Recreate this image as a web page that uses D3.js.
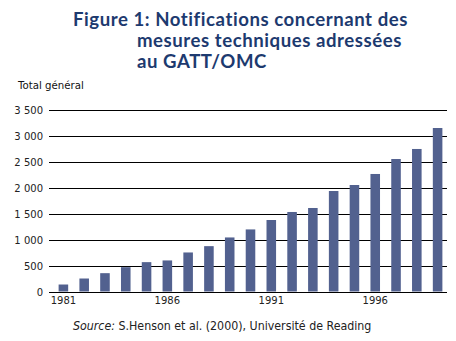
<!DOCTYPE html>
<html>
<head>
<meta charset="utf-8">
<script src="https://cdn.jsdelivr.net/npm/d3@7"></script>
<style>
  html, body { margin: 0; padding: 0; background: #fff; }
  svg { display: block; }
</style>
</head>
<body>
<svg id="chart" width="456" height="341"></svg>
<script>
// Notifications per year, 1981–1999
const years = [1981, 1982, 1983, 1984, 1985, 1986, 1987, 1988, 1989, 1990,
               1991, 1992, 1993, 1994, 1995, 1996, 1997, 1998, 1999];
const notifications = [135, 251, 354, 470, 567, 600, 754, 876, 1044, 1199,
                       1381, 1536, 1613, 1941, 2057, 2270, 2559, 2753, 3158];
const yTicks = [0, 500, 1000, 1500, 2000, 2500, 3000, 3500];
const xTickLabels = [1981, 1986, 1991, 1996];
const titleLines = ["Figure 1: Notifications concernant des",
                    "mesures techniques adressées",
                    "au GATT/OMC"];

const svg = d3.select("#chart");

const x = d3.scaleBand()
  .domain(years)
  .range([53, 448])
  .paddingInner(0.54)
  .paddingOuter(0.27);

const y = d3.scaleLinear()
  .domain([0, 3500])
  .range([291.5, 110.3]);

const fmt = d3.formatLocale({ decimal: ",", thousands: " ", grouping: [3], currency: ["", ""] }).format(",");

// Title, one text element per line
const titleX = [73, 137, 137];
const titleY = [26, 47, 68];
svg.append("g")
  .selectAll("text")
  .data(titleLines)
  .join("text")
  .attr("x", (d, i) => titleX[i])
  .attr("y", (d, i) => titleY[i])
  .attr("font-family", "Lato, 'Open Sans', sans-serif")
  .attr("font-weight", 700)
  .attr("font-size", 18.6)
  .attr("letter-spacing", 0.55)
  .attr("fill", "#1d3a6f")
  .text(d => d);

// Axis caption
svg.append("text")
  .attr("x", 18).attr("y", 89)
  .attr("font-family", "'DejaVu Sans', sans-serif")
  .attr("font-size", 10.2)
  .attr("fill", "#111")
  .text("Total général");

// Horizontal gridlines with left-hand labels
const yAxis = d3.axisLeft(y)
  .tickValues(yTicks)
  .tickSize(-(447 - 49))
  .tickPadding(6)
  .tickFormat(fmt);

const gy = svg.append("g")
  .attr("transform", "translate(49,0)")
  .call(yAxis);
gy.select(".domain").remove();
gy.selectAll(".tick line")
  .attr("stroke", "#000")
  .attr("stroke-width", 1.1);
gy.selectAll(".tick").attr("transform", d => `translate(0,${Math.round(y(d)) + 0.5})`);
gy.selectAll(".tick text")
  .attr("font-family", "'DejaVu Sans', sans-serif")
  .attr("font-size", 10)
  .attr("fill", "#222");

// Bars
svg.append("g")
  .selectAll("rect")
  .data(notifications)
  .join("rect")
  .attr("x", (d, i) => x(years[i]))
  .attr("width", x.bandwidth())
  .attr("y", d => y(d))
  .attr("height", d => y(0) - y(d))
  .attr("fill", "#52618f");

// Year labels under selected bars
const xAxis = d3.axisBottom(x)
  .tickValues(xTickLabels)
  .tickSize(0)
  .tickPadding(4);
const gx = svg.append("g")
  .attr("transform", `translate(0,${Math.round(y(0)) + 1})`)
  .call(xAxis);
gx.select(".domain").remove();
gx.selectAll(".tick text")
  .attr("font-family", "'DejaVu Sans', sans-serif")
  .attr("font-size", 10)
  .attr("fill", "#222");

// Source line
const src = svg.append("text")
  .attr("x", 73).attr("y", 330)
  .attr("font-family", "'DejaVu Sans Condensed', 'DejaVu Sans', sans-serif")
  .attr("font-stretch", "condensed")
  .attr("font-size", 12.3)
  .attr("fill", "#222");
src.append("tspan").attr("font-style", "italic").text("Source:");
src.append("tspan").text(" S.Henson et al. (2000), Université de Reading");
</script>
</body>
</html>
